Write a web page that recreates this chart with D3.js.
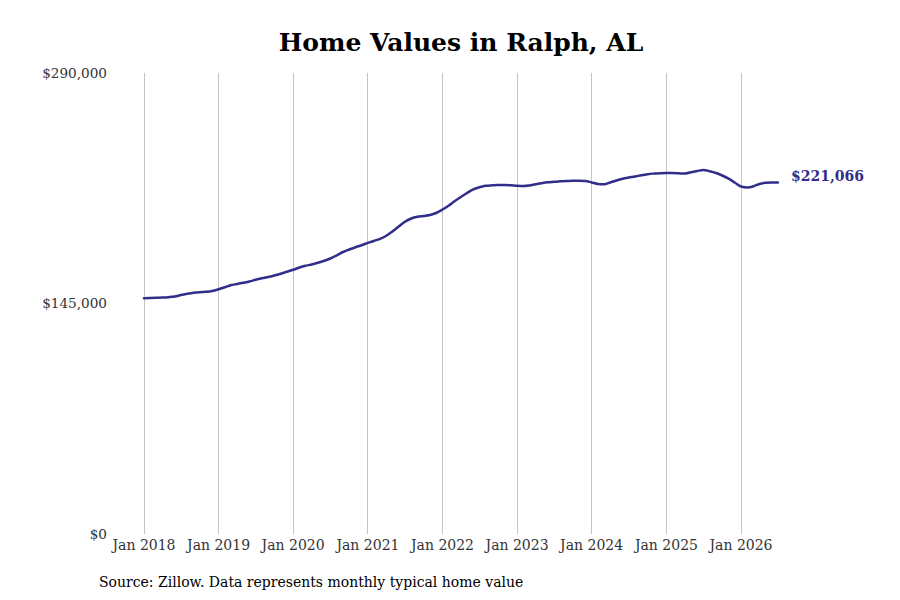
<!DOCTYPE html>
<html>
<head>
<meta charset="utf-8">
<script src="https://cdn.jsdelivr.net/npm/d3@7"></script>
<style>
  html, body { margin: 0; padding: 0; background: #fff; }
  svg { display: block; }
</style>
</head>
<body>
<svg id="chart" width="900" height="600"></svg>
<script>
const title = "Home Values in Ralph, AL";
const source = "Source: Zillow. Data represents monthly typical home value";
const startYear = 2018;
const startMonth = 0; // January
const values = [
  148270, 148460, 148590, 148710, 148960, 149400, 150350, 151100, 151730, 152110, 152360, 152870,
  153930, 155190, 156510, 157270, 158020, 158840, 159910, 160850, 161670, 162620, 163690, 164940,
  166200, 167650, 168720, 169540, 170600, 171860, 173310, 175320, 177400, 178970, 180420, 181670,
  183180, 184440, 185700, 187590, 190300, 193440, 196400, 198470, 199540, 200050, 200670, 201930,
  204130, 206650, 209300, 212000, 214510, 216840, 218100, 219040, 219360, 219550, 219550, 219360,
  219040, 218920, 219230, 219980, 220680, 221250, 221560, 221870, 222060, 222190, 222190, 222060,
  221120, 220170, 219980, 221120, 222380, 223450, 224200, 224890, 225710, 226340, 226720, 226970,
  227100, 227100, 226910, 226720, 227600, 228350, 228980, 228230, 227100, 225520, 223510, 221120,
  218600, 217970, 218600, 220170, 220930, 221120, 221066
];
const yTicks = [0, 145000, 290000];
const xTickYears = [2018, 2019, 2020, 2021, 2022, 2023, 2024, 2025, 2026];

const data = values.map((v, i) => ({ date: new Date(startYear, startMonth + i, 1), value: v }));

const svg = d3.select("#chart");

const x = d3.scaleTime()
  .domain([new Date(2018, 0, 1), new Date(2026, 0, 1)])
  .range([144, 741]);
const y = d3.scaleLinear().domain([0, 290000]).range([534, 73]);

const font = "DejaVu Serif, serif";

// gridlines
svg.append("g").selectAll("line")
  .data(xTickYears)
  .join("line")
  .attr("x1", d => x(new Date(d, 0, 1)))
  .attr("x2", d => x(new Date(d, 0, 1)))
  .attr("y1", y(290000))
  .attr("y2", y(0))
  .attr("stroke", "#c4c4c4")
  .attr("stroke-width", 1)
  .attr("shape-rendering", "crispEdges");

// x labels
svg.append("g").selectAll("text")
  .data(xTickYears)
  .join("text")
  .attr("x", d => x(new Date(d, 0, 1)))
  .attr("y", 550)
  .attr("text-anchor", "middle")
  .attr("font-family", font)
  .attr("font-size", 14)
  .attr("fill", "#333")
  .text(d => d3.timeFormat("%b %Y")(new Date(d, 0, 1)));

// y labels
svg.append("g").selectAll("text")
  .data(yTicks)
  .join("text")
  .attr("x", 107)
  .attr("y", d => y(d))
  .attr("dy", "0.35em")
  .attr("text-anchor", "end")
  .attr("font-family", font)
  .attr("font-size", 13.6)
  .attr("fill", "#333")
  .text(d => "$" + d3.format(",")(d));

// line
const line = d3.line()
  .x(d => x(d.date))
  .y(d => y(d.value))
  .curve(d3.curveMonotoneX);

svg.append("path")
  .datum(data)
  .attr("fill", "none")
  .attr("stroke", "#312e8a")
  .attr("stroke-width", 2.5)
  .attr("stroke-linejoin", "round")
  .attr("stroke-linecap", "round")
  .attr("d", line);

// end label
const last = data[data.length - 1];
svg.append("text")
  .attr("x", x(last.date) + 13)
  .attr("y", y(last.value) - 6)
  .attr("dy", "0.35em")
  .attr("font-family", font)
  .attr("font-size", 14)
  .attr("font-weight", "bold")
  .attr("fill", "#312e8a")
  .text("$" + d3.format(",")(last.value));

// title
svg.append("text")
  .attr("x", 461)
  .attr("y", 51)
  .attr("text-anchor", "middle")
  .attr("font-family", font)
  .attr("font-size", 25)
  .attr("font-weight", "bold")
  .attr("fill", "#000")
  .text(title);

// source
svg.append("text")
  .attr("x", 99)
  .attr("y", 587)
  .attr("font-family", font)
  .attr("font-size", 14)
  .attr("fill", "#000")
  .text(source);
</script>
</body>
</html>
